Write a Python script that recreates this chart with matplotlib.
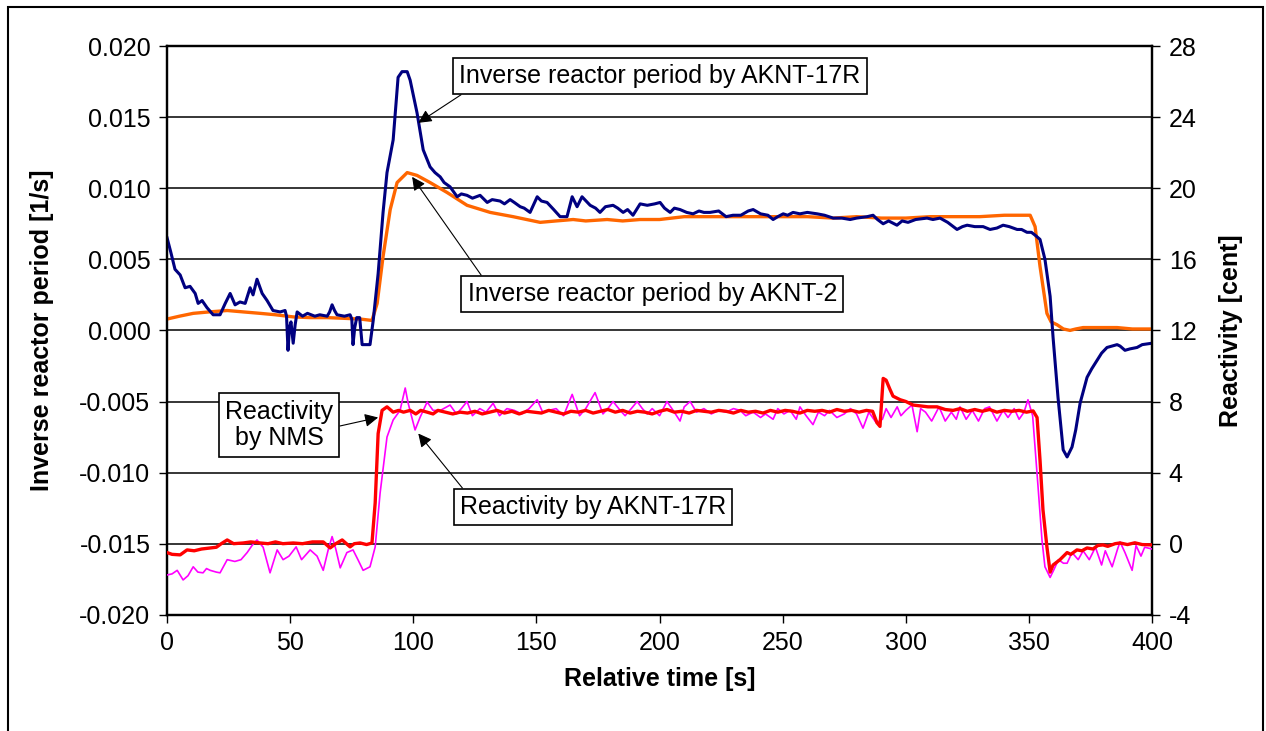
import matplotlib.pyplot as plt
from matplotlib.patches import Rectangle

plt.rcParams['font.family'] = ['Liberation Sans', 'DejaVu Sans']
plt.rcParams['axes.unicode_minus'] = False

# inverse reactor period by AKNT-17R [1/s]
t_blue = [0, 1.5, 3.2, 5.3, 7.3, 9.3, 11.4, 12.6, 14.2, 16.2, 18.7, 21.5, 23.6, 25.6, 27.6, 29.6,
          31.7, 33.7, 34.9, 36.5, 38.6, 40.6, 43.0, 45.9, 47.9, 48.5, 49.1, 49.7, 50.3, 51.2, 52.0,
          52.8, 55, 57, 60, 62, 65, 66, 67, 68, 69, 72, 74.3, 75, 75.5, 76.2, 77, 78.2, 79.2, 80,
          82.4, 83.7, 85.7, 87.7, 89.3, 91.8, 93.8, 95.4, 97.5, 98.7, 101.5, 104, 106.8, 108.8,
          110.9, 112.5, 114.9, 117.8, 119.5, 121.8, 124, 127.1, 130, 132, 135.2, 137, 139.3, 141,
          143.4, 145, 147.4, 150.3, 152, 154.3, 157, 159.6, 162.4, 164.5, 166.5, 168.5, 171.8, 174,
          175.8, 178, 181.1, 183, 185.2, 187, 189.2, 192.1, 195, 198, 200.2, 202, 204.3, 206, 208.3,
          211, 213.6, 216, 218, 220.5, 224, 227, 229.8, 233, 236, 238, 241, 244, 246.1, 248, 250.2,
          252, 254.2, 257, 260, 264, 267, 270.5, 274, 277.4, 280, 284.3, 286.7, 288.5, 290.8, 293,
          296.4, 298.5, 300.9, 304, 308.6, 311, 313.9, 317, 320.8, 323, 324.9, 328, 331.4, 334.2,
          337, 339.5, 342, 345.2, 347, 349.2, 351, 352.5, 354.5, 356.5, 358.6, 359.8, 361.8, 363.9,
          365.5, 367.5, 369, 370.8, 373.6, 375.5, 377.7, 379.5, 381.7, 385.8, 387, 389, 391, 393.9,
          396, 400]
v_blue = [0.0065, 0.0055, 0.0043, 0.0039, 0.0030, 0.0031, 0.0026, 0.0019, 0.0021, 0.0016, 0.0011,
          0.0011, 0.0019, 0.0026, 0.0018, 0.0020, 0.0019, 0.0030, 0.0025, 0.0036, 0.0026, 0.0021,
          0.0014, 0.0013, 0.0014, 0.0010, -0.0014, 0.0002, 0.0006, -0.0009, 0.0004, 0.0013, 0.0010,
          0.0012, 0.0010, 0.0011, 0.0010, 0.0013, 0.0018, 0.0014, 0.0011, 0.0010, 0.0011, 0.0008,
          -0.0010, 0.0002, 0.0009, 0.0009, -0.0010, -0.0010, -0.0010, 0.0007, 0.0040, 0.0083,
          0.0111, 0.0134, 0.0178, 0.0182, 0.0182, 0.0176, 0.0153, 0.0127, 0.0115, 0.0111, 0.0108,
          0.0104, 0.0101, 0.0094, 0.0096, 0.0095, 0.0093, 0.0095, 0.0090, 0.0092, 0.0091, 0.0089,
          0.0092, 0.0090, 0.0087, 0.0086, 0.0083, 0.0094, 0.0091, 0.0090, 0.0085, 0.0080, 0.0080,
          0.0094, 0.0087, 0.0094, 0.0088, 0.0086, 0.0083, 0.0087, 0.0088, 0.0086, 0.0083, 0.0085,
          0.0081, 0.0089, 0.0088, 0.0089, 0.0090, 0.0086, 0.0083, 0.0086, 0.0085, 0.0083, 0.0082,
          0.0084, 0.0083, 0.0083, 0.0084, 0.0080, 0.0081, 0.0081, 0.0084, 0.0085, 0.0082, 0.0081,
          0.0078, 0.0080, 0.0082, 0.0081, 0.0083, 0.0082, 0.0083, 0.0082, 0.0081, 0.0079, 0.0079,
          0.0078, 0.0079, 0.0080, 0.0081, 0.0078, 0.0075, 0.0077, 0.0074, 0.0077, 0.0076, 0.0078,
          0.0079, 0.0078, 0.0079, 0.0076, 0.0071, 0.0073, 0.0074, 0.0073, 0.0073, 0.0071, 0.0072,
          0.0074, 0.0073, 0.0071, 0.0071, 0.0069, 0.0069, 0.0067, 0.0064, 0.0050, 0.0024, -0.0005,
          -0.0047, -0.0084, -0.0089, -0.0082, -0.0070, -0.0051, -0.0033, -0.0027, -0.0021, -0.0016,
          -0.0012, -0.0010, -0.0011, -0.0014, -0.0013, -0.0012, -0.0010, -0.0009]

# inverse reactor period by AKNT-2 [1/s]
t_orange = [0, 5, 10.6, 17, 24.4, 31, 37.8, 44, 51.2, 58, 65, 72, 78.4, 83.2, 85.3, 87.7, 90.6,
            93.4, 97.5, 101.5, 106.8, 113.7, 121.8, 131.2, 140.5, 151.5, 158, 164.9, 170, 178.7,
            185, 192.1, 200, 210, 220, 230, 240, 250, 260, 270.5, 280, 290, 300, 310, 320, 330,
            340, 345, 350.5, 352.5, 354.5, 357.3, 359, 361.4, 364, 366.7, 369, 372, 380, 385.8,
            392, 400]
v_orange = [0.0008, 0.0010, 0.0012, 0.0013, 0.0014, 0.0013, 0.0012, 0.0011, 0.00095, 0.0009,
            0.0009, 0.00085, 0.0008, 0.0007, 0.0019, 0.0052, 0.0085, 0.0104, 0.0111, 0.0109,
            0.0104, 0.0097, 0.0088, 0.0083, 0.0080, 0.0076, 0.0077, 0.0078, 0.0077, 0.0078, 0.0077,
            0.0078, 0.0078, 0.0080, 0.0080, 0.0080, 0.0080, 0.0080, 0.0080, 0.0079, 0.0080, 0.0079,
            0.0079, 0.0080, 0.0080, 0.0080, 0.0081, 0.0081, 0.0081, 0.0073, 0.0045, 0.0012, 0.0006,
            0.0004, 0.0001, 0.0000, 0.0001, 0.0002, 0.0002, 0.0002, 0.0001, 0.0001]

# reactivity by NMS [cent]
t_red = [0, 2, 5.3, 8.1, 11, 14, 17.5, 20, 22, 24.4, 27, 30.9, 34, 37.8, 41, 44, 47, 51.2, 55, 59,
         63.4, 66.2, 68.5, 71.1, 74.3, 76, 78.4, 81, 83.2, 84.5, 85.7, 87.3, 89.3, 91.8, 94, 96,
         98.7, 101, 103, 105.6, 108, 110, 113, 116, 119, 122, 125, 128, 131, 134, 137, 140, 143,
         146, 149, 152, 155, 158, 161, 164, 167, 170, 173, 176, 179, 182, 185, 188, 191, 194, 197,
         200, 203, 206, 209, 212, 215, 218, 221, 224, 227, 230, 233, 236, 239, 242, 245, 248, 251,
         254, 257, 260, 263, 266, 269, 272, 275, 278, 281, 284, 286.5, 288.3, 289.5, 290.8, 292,
         293.5, 294.8, 297.7, 300, 303, 306, 309, 312.7, 316, 319.2, 322, 325, 328, 331, 334, 337,
         340, 343, 346, 349, 351.7, 353.3, 354.5, 355.7, 357.3, 358.6, 359.8, 362.6, 365.5, 367,
         369.5, 371.5, 373.6, 376, 378, 380.1, 382, 385, 387, 390, 393, 396, 400]
v_red = [-0.5, -0.6, -0.63, -0.35, -0.4, -0.3, -0.24, -0.2, 0.0, 0.21, 0.0, 0.04, 0.1, 0.04, 0.0,
         0.1, 0.0, 0.04, 0.0, 0.1, 0.1, -0.24, 0.0, 0.21, -0.18, 0.0, 0.04, -0.05, 0.04, 2.3, 6.2,
         7.5, 7.7, 7.4, 7.5, 7.4, 7.5, 7.3, 7.5, 7.4, 7.3, 7.5, 7.4, 7.3, 7.4, 7.35, 7.45, 7.3, 7.4,
         7.5, 7.35, 7.45, 7.3, 7.45, 7.4, 7.35, 7.5, 7.4, 7.3, 7.45, 7.4, 7.5, 7.35, 7.45, 7.55,
         7.4, 7.5, 7.35, 7.45, 7.4, 7.3, 7.45, 7.55, 7.4, 7.45, 7.35, 7.5, 7.45, 7.4, 7.5, 7.45,
         7.35, 7.5, 7.4, 7.45, 7.35, 7.5, 7.4, 7.5, 7.45, 7.35, 7.5, 7.45, 7.5, 7.4, 7.55, 7.45,
         7.5, 7.4, 7.5, 7.45, 6.8, 6.6, 9.3, 9.2, 8.7, 8.3, 8.1, 8.0, 7.8, 7.75, 7.7, 7.7, 7.55,
         7.5, 7.6, 7.45, 7.55, 7.45, 7.55, 7.4, 7.5, 7.45, 7.5, 7.4, 7.47, 7.1, 4.7, 1.9, -0.18,
         -1.6, -1.2, -0.9, -0.5, -0.6, -0.35, -0.4, -0.24, -0.3, -0.1, -0.07, -0.15, 0.0, 0.04,
         -0.05, 0.05, -0.05, -0.07]

# reactivity by AKNT-17R [cent]
t_mag = [0, 2, 4.1, 6.5, 8.5, 10.6, 12.5, 14.6, 16, 17.5, 20, 21.5, 24.4, 27.5, 30, 32.5, 34.5,
         36.5, 39, 41.8, 44.7, 47.1, 49.5, 52.4, 54.6, 58.1, 60.9, 63.4, 65.5, 67, 68.5, 70.3, 73,
         75.5, 77.5, 79.6, 82.4, 84.5, 86.5, 89.3, 91.8, 94.6, 96.7, 97.9, 100.7, 102.7, 105.6,
         108, 111, 114.9, 117.5, 119.5, 121.8, 124, 127, 129.5, 132.4, 135, 138, 141, 144, 147,
         150.3, 152.5, 155, 158, 161, 164.5, 167.5, 170, 173.8, 177, 179, 181.1, 184, 186, 188.5,
         190.9, 193, 195, 197, 200, 203, 205.5, 208.3, 210, 212.4, 215, 218, 221, 224, 227, 230,
         232.7, 235, 238, 241, 243, 246.1, 248, 250.5, 253, 255.5, 257, 259.5, 262.3, 264.5, 267,
         269, 272, 275, 277.5, 280, 282.6, 285, 288, 290.5, 292, 294, 296.5, 298, 300, 302.5,
         304.6, 306, 308, 310.5, 313.5, 316, 318.5, 320.5, 322, 324.5, 327, 329.5, 332, 334, 337,
         339.5, 341.5, 344, 346, 348, 349.6, 351.5, 353.7, 355.3, 356.5, 358.6, 360, 362, 364,
         365.5, 367.5, 370, 372, 374.5, 377, 379.5, 381, 383.8, 386, 387, 389, 391.9, 393.5,
         395.5, 397, 400]
v_mag = [-1.76, -1.7, -1.5, -2.04, -1.8, -1.3, -1.6, -1.64, -1.4, -1.5, -1.6, -1.64, -0.9, -1.0,
         -0.9, -0.5, -0.1, 0.21, -0.2, -1.64, -0.35, -0.9, -0.7, -0.18, -0.9, -0.35, -0.7, -1.5,
         -0.3, 0.4, -0.3, -1.36, -0.5, -0.35, -0.9, -1.5, -1.3, -0.18, 2.85, 6.0, 6.96, 7.5, 8.76,
         7.9, 6.4, 7.1, 7.97, 7.5, 7.5, 7.8, 7.3, 7.6, 8.0, 7.2, 7.6, 7.4, 7.9, 7.2, 7.6, 7.5, 7.3,
         7.6, 8.1, 7.4, 7.5, 7.6, 7.2, 8.4, 7.2, 7.6, 8.5, 7.3, 7.6, 8.0, 7.5, 7.2, 7.6, 8.0, 7.6,
         7.3, 7.6, 7.2, 8.0, 7.5, 6.9, 7.7, 8.0, 7.4, 7.6, 7.3, 7.5, 7.4, 7.6, 7.5, 7.2, 7.4, 7.1,
         7.3, 7.0, 7.6, 7.3, 7.5, 7.0, 7.7, 7.2, 6.7, 7.4, 7.2, 7.5, 7.1, 7.3, 7.6, 7.3, 6.5, 7.4,
         6.8, 7.0, 7.6, 7.1, 7.7, 7.2, 7.5, 7.8, 6.3, 7.6, 7.4, 6.9, 7.7, 6.9, 7.4, 7.0, 7.7, 7.0,
         7.5, 6.9, 7.6, 7.7, 6.9, 7.5, 7.1, 7.6, 7.0, 7.4, 8.1, 7.2, 3.2, 0.2, -1.3, -1.9, -1.5,
         -0.9, -1.1, -1.1, -0.5, -0.9, -0.4, -0.9, -0.2, -1.2, -0.4, -1.3, -0.3, 0.1, -0.5, -1.5,
         -0.1, -0.7, -0.2, -0.3]

left_ticks = [-0.020, -0.015, -0.010, -0.005, 0.000, 0.005, 0.010, 0.015, 0.020]
right_ticks = [-4, 0, 4, 8, 12, 16, 20, 24, 28]
x_ticks = [0, 50, 100, 150, 200, 250, 300, 350, 400]

FS = 18

fig = plt.figure(figsize=(12.66, 7.31), dpi=100)
fig.patches.append(Rectangle((0.006, -0.01), 0.992, 1.0, transform=fig.transFigure,
                             fill=False, edgecolor='black', lw=1.5))
ax = fig.add_axes([0.132, 0.159, 0.778, 0.778])
ax2 = ax.twinx()

ax.set_xlim(0, 400)
ax.set_ylim(-0.020, 0.020)
ax2.set_ylim(-4, 28)
ax.set_xticks(x_ticks)
ax.set_yticks(left_ticks)
ax.set_yticklabels([f"{v:.3f}" for v in left_ticks])
ax2.set_yticks(right_ticks)
ax.yaxis.grid(True, color='black', lw=1.1)
ax.set_axisbelow(True)

for a in (ax, ax2):
    a.tick_params(labelsize=FS, length=6, width=1, color='black', pad=6)
    for s in a.spines.values():
        s.set_linewidth(1.6)

ax.plot(t_orange, v_orange, color='#FF6600', lw=2.4, zorder=3)
ax.plot(t_blue, v_blue, color='#000080', lw=2.2, zorder=4)
ax2.plot(t_mag, v_mag, color='#FF00FF', lw=1.2, zorder=3)
ax2.plot(t_red, v_red, color='#FF0000', lw=2.4, zorder=4)

ax.set_xlabel('Relative time [s]', fontsize=FS, fontweight='bold', labelpad=8)
ax.set_ylabel('Inverse reactor period [1/s]', fontsize=FS, fontweight='bold', labelpad=18)
ax2.set_ylabel('Reactivity [cent]', fontsize=FS, fontweight='bold', labelpad=16)

box = dict(boxstyle='square,pad=0.25', facecolor='white', edgecolor='black', lw=1.2)
arr = dict(arrowstyle='-|>', color='black', lw=0.8, mutation_scale=20, shrinkA=0, shrinkB=0)

ax.annotate('Inverse reactor period by AKNT-17R', xy=(102, 0.0146),
            xytext=(200.2, 0.0179), ha='center', va='center', fontsize=FS,
            bbox=box, arrowprops=dict(arr, relpos=(0.03, 0.0)), zorder=6)
ax.annotate('Inverse reactor period by AKNT-2', xy=(99.5, 0.0108),
            xytext=(197, 0.00256), ha='center', va='center', fontsize=FS,
            bbox=box, arrowprops=dict(arr, relpos=(0.05, 1.0)), zorder=6)
ax2.annotate('Reactivity\nby NMS', xy=(85.7, 7.1), xytext=(45.5, 6.68),
             ha='center', va='center', fontsize=FS, linespacing=1.15,
             bbox=box, arrowprops=dict(arr, relpos=(1.0, 0.45)), zorder=6)
ax2.annotate('Reactivity by AKNT-17R', xy=(102, 6.2), xytext=(173, 2.07),
             ha='center', va='center', fontsize=FS,
             bbox=box, arrowprops=dict(arr, relpos=(0.03, 1.0)), zorder=6)

fig.savefig('out.png', dpi=100)
